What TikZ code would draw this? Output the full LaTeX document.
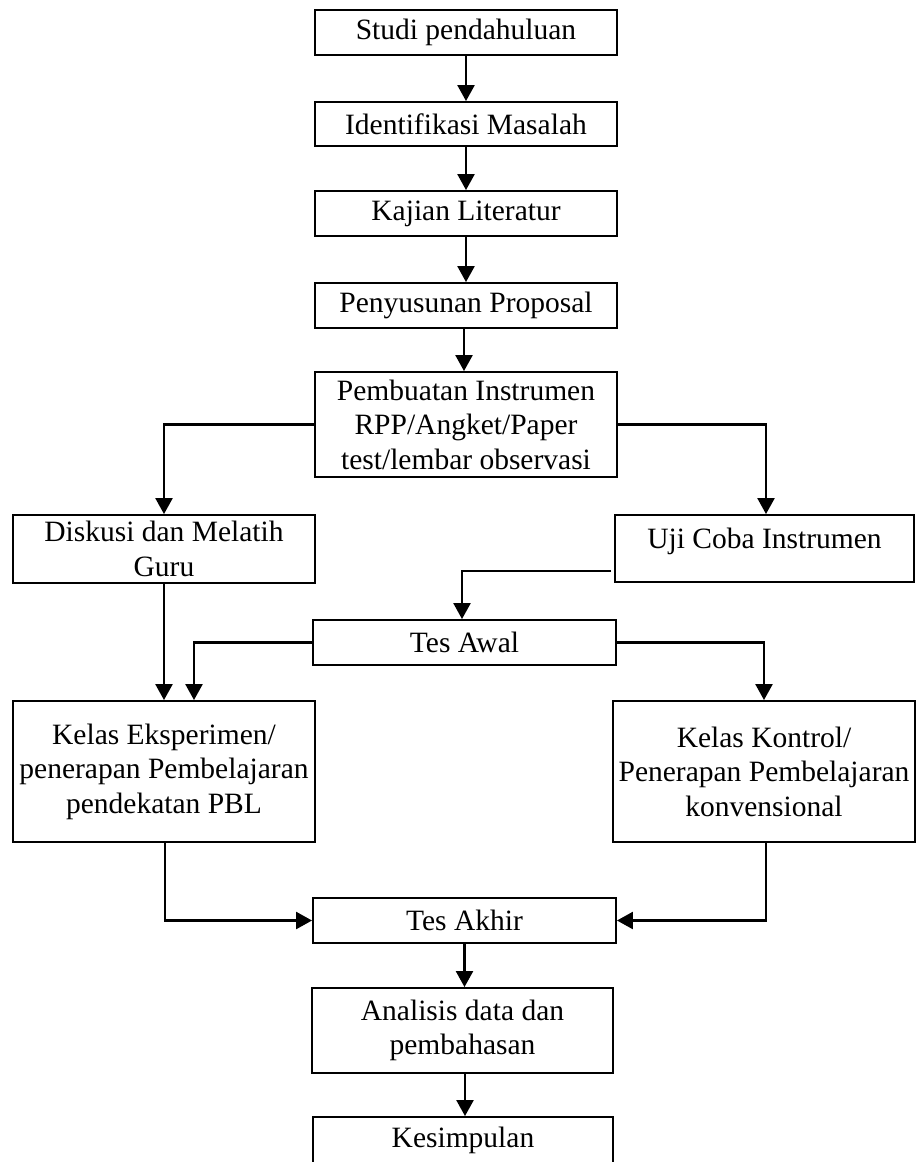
\documentclass[tikz,border=0pt]{standalone}
\usepackage{fontspec}
\setmainfont{Liberation Serif}
\usetikzlibrary{arrows.meta}
\tikzset{
  box/.style={draw, line width=1.9pt, inner sep=0pt, align=center,
    font=\fontsize{29.5}{34.5}\selectfont},
  arr/.style={line width=2.4pt, -{Triangle[width=17pt,length=16pt]}},
}
\begin{document}
\begin{tikzpicture}[x=1pt,y=-1pt]
\fill[white] (0,0) rectangle (916,1162);
\clip (0,0) rectangle (916,1162);
\node[box, minimum width=302pt, minimum height=45pt] (studi) at (466,32.5) {Studi pendahuluan};
\node[box, minimum width=302pt, minimum height=44pt] (ident) at (466,124) {Identifikasi Masalah};
\node[box, minimum width=302pt, minimum height=45pt] (kajian) at (466,213.5) {Kajian Literatur};
\node[box, minimum width=302pt, minimum height=45pt] (penyus) at (466,305.5) {Penyusunan Proposal};
\node[box, minimum width=302pt, minimum height=105pt] (pembuat) at (466,424.5) {Pembuatan Instrumen\\RPP/Angket/Paper\\test/lembar observasi};
\node[box, minimum width=302pt, minimum height=68pt] (diskusi) at (164,549) {Diskusi dan Melatih\\Guru};
\node[box, minimum width=299pt, minimum height=67pt, text height=20pt, text depth=20pt] (uji) at (764.5,548.5) {Uji Coba Instrumen};
\node[box, minimum width=303pt, minimum height=45pt] (awal) at (464.5,642.5) {Tes Awal};
\node[box, minimum width=302pt, minimum height=141pt] (eksp) at (164,771.5) {Kelas Eksperimen/\\penerapan Pembelajaran\\pendekatan PBL};
\node[box, minimum width=302pt, minimum height=141pt] (kontrol) at (764,771.5) {Kelas Kontrol/\\Penerapan Pembelajaran\\konvensional};
\node[box, minimum width=303pt, minimum height=45pt] (akhir) at (464.5,920.5) {Tes Akhir};
\node[box, minimum width=301pt, minimum height=85pt] (analisis) at (462.5,1030.5) {Analisis data dan\\pembahasan};
\node[box, minimum width=300pt, minimum height=47pt] (simpul) at (463,1140.5) {Kesimpulan};

\draw[arr] (studi.south) -- (ident.north);
\draw[arr] (ident.south) -- (kajian.north);
\draw[arr] (kajian.south) -- (penyus.north);
\draw[arr] ([xshift=-2pt]penyus.south) -- ([xshift=-2pt]pembuat.north);
\draw[arr] (pembuat.west) -| (diskusi.north);
\draw[arr] (pembuat.east) -| ([xshift=1.5pt]uji.north);
\draw[arr] ([xshift=-3pt,yshift=-22.5pt]uji.west) -| ([xshift=-2.5pt]awal.north);
\draw[arr] (diskusi.south) -- (eksp.north);
\draw[arr] (awal.west) -| ([xshift=30pt]eksp.north);
\draw[arr] (awal.east) -| (kontrol.north);
\draw[arr] ([xshift=1pt]eksp.south) |- (akhir.west);
\draw[arr] ([xshift=2pt]kontrol.south) |- (akhir.east);
\draw[arr] (akhir.south) -- (akhir.south |- analisis.north);
\draw[arr] ([xshift=2.5pt]analisis.south) -- ([xshift=2.5pt]analisis.south |- simpul.north);
\end{tikzpicture}
\end{document}
